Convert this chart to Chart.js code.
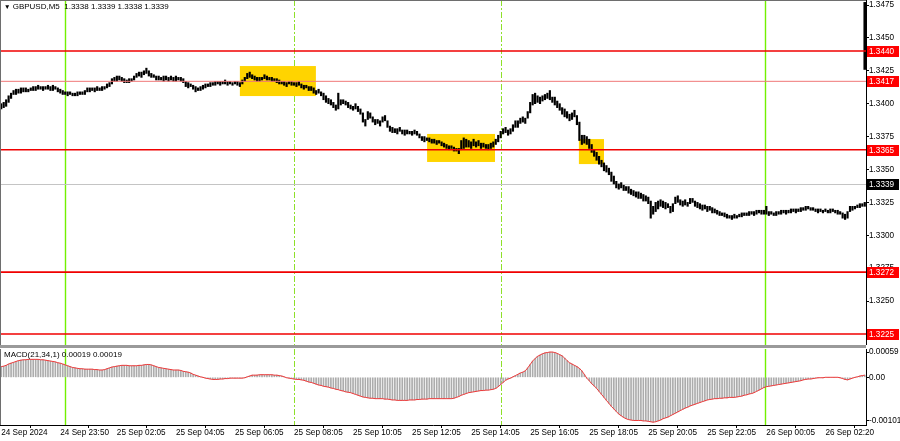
<!DOCTYPE html>
<html>
<head>
<meta charset="utf-8">
<script src="https://cdn.jsdelivr.net/npm/chart.js@4.4.0/dist/chart.umd.min.js"></script>
<style>
  html, body { margin: 0; padding: 0; background: #fff; }
  #wrap { position: relative; width: 900px; height: 441px; overflow: hidden; font-family: "Liberation Sans", Arial, sans-serif; }
  #price { position: absolute; left: 0; top: 0; }
  #macd { position: absolute; left: 0; top: 348px; }
  #sep { position: absolute; left: 0; top: 345px; width: 866px; height: 3px; background: #9a9a9a; }
  .lbl { position: absolute; font-size: 8px; color: #000; white-space: pre; }
  .tri { font-size: 6.5px; }
</style>
</head>
<body>
<div id="wrap">
  <canvas id="price" width="900" height="345"></canvas>
  <div id="sep"></div>
  <canvas id="macd" width="900" height="93"></canvas>
  <div class="lbl" style="left:4px;top:2px"><span class="tri">▼</span> GBPUSD,M5  1.3338 1.3339 1.3338 1.3339</div>
  <div class="lbl" style="left:4px;top:350px">MACD(21,34,1) 0.00019 0.00019</div>
</div>
<script>
// GBPUSD M5, 24 Sep 21:50 .. 26 Sep ~03:00 (one entry per bar)
// prices stored as pips above 1.3200
const PIP_BASE = 1.32;

const lowPips = [
  196,197,198,201,204,207,207,208,208,209,
  209,209,210,210,210,211,211,210,211,211,
  210,210,211,209,208,207,207,206,207,206,
  206,206,207,207,207,209,209,210,209,210,
  210,210,211,212,213,215,217,217,218,217,
  216,216,216,217,218,220,221,220,222,223,
  221,220,220,218,218,218,217,218,217,218,
  217,217,218,217,216,213,212,213,211,209,
  210,210,211,212,213,213,214,214,215,214,
  215,215,214,215,214,215,214,213,215,217,
  219,220,219,218,217,217,218,219,218,218,
  217,217,216,215,215,214,213,215,214,214,
  213,214,212,211,212,210,210,208,207,208,
  206,203,201,200,199,197,195,196,199,200,
  199,197,196,195,196,194,192,186,183,188,
  189,186,184,185,183,186,187,182,179,178,
  178,177,179,177,176,177,177,176,177,176,
  174,172,171,172,171,170,170,169,170,168,
  167,166,165,166,164,164,162,165,166,167,
  167,166,168,167,168,166,167,166,165,166,
  167,169,171,174,177,178,176,177,179,182,
  182,185,186,185,189,193,199,200,201,200,
  202,203,204,203,201,199,197,195,192,190,
  189,187,188,190,184,172,169,170,169,166,
  163,160,157,154,152,149,148,146,141,139,
  136,135,136,134,134,132,131,130,129,128,
  128,126,126,124,113,116,118,120,122,121,
  120,121,117,118,124,125,123,122,123,122,
  124,125,122,121,120,119,120,118,119,117,
  117,116,115,115,114,113,113,112,113,113,
  114,114,115,115,115,116,115,116,117,116,
  116,116,115,116,115,115,116,116,117,116,
  117,117,118,117,118,118,119,119,120,119,
  119,118,117,118,117,118,117,117,118,117,
  116,116,113,112,113,118,119,120,121,121,122,122
];

const highPips = [
  200,201,203,206,208,210,211,211,212,212,
  212,211,212,213,213,214,213,213,213,214,
  213,214,213,212,211,210,209,209,209,208,
  208,209,209,209,210,212,212,212,212,213,
  212,213,213,215,216,219,220,221,221,220,
  219,218,219,219,221,223,224,224,225,227,
  225,223,222,221,221,220,221,221,220,221,
  220,221,220,220,219,217,216,215,214,213,
  212,213,214,215,215,216,216,217,217,217,
  217,218,217,217,216,217,217,216,218,220,
  223,224,222,221,220,220,220,222,221,220,
  220,219,219,218,217,217,216,217,217,216,
  216,217,215,214,214,213,213,212,210,211,
  209,208,206,204,203,201,199,208,203,203,
  202,201,199,198,200,198,196,193,188,194,
  193,190,188,188,187,190,191,187,183,182,
  181,181,182,180,180,180,179,179,180,179,
  177,175,175,174,174,173,173,172,172,171,
  170,169,168,168,167,166,166,172,174,173,
  172,171,173,171,172,170,170,169,169,170,
  171,173,176,179,181,182,180,181,184,187,
  187,189,190,189,194,201,207,208,206,205,
  206,207,208,210,205,205,202,200,197,196,
  194,192,193,195,191,186,176,176,175,173,
  169,165,163,160,157,155,153,151,148,145,
  141,139,140,138,137,137,135,134,133,133,
  132,131,130,129,126,122,125,126,127,126,
  125,124,122,124,129,130,127,126,127,125,
  128,128,126,125,124,123,123,122,122,121,
  120,119,118,117,117,116,115,115,116,115,
  116,117,117,117,118,118,118,119,119,119,
  119,122,118,118,117,118,118,119,119,119,
  119,120,120,120,120,121,121,122,122,121,
  121,120,120,120,119,120,119,120,120,119,
  119,118,117,116,118,122,122,122,123,124,124,125
];

// MACD(21,34,1) main line, in units of 0.00001
const macdE5 = [
  25,26,28,31,33,35,37,39,40,41,
  41,42,42,42,42,42,41,41,40,39,
  38,37,36,34,33,31,29,27,25,23,
  22,21,20,20,19,19,19,19,18,18,
  17,17,18,20,22,24,25,26,27,28,
  28,28,27,27,27,27,28,28,29,30,
  30,29,27,25,23,22,21,20,19,18,
  17,17,17,16,14,13,12,10,7,5,
  3,1,0,-2,-3,-4,-5,-5,-5,-4,
  -4,-3,-3,-2,-2,-2,-2,-2,-2,-1,
  1,3,5,5,5,6,6,6,6,6,
  6,5,5,4,3,1,-1,-2,-3,-4,
  -5,-5,-6,-7,-9,-11,-12,-14,-16,-18,
  -19,-21,-22,-23,-25,-26,-28,-29,-31,-32,
  -34,-35,-36,-38,-40,-42,-44,-46,-47,-48,
  -49,-49,-50,-50,-50,-50,-51,-51,-52,-53,
  -53,-54,-54,-54,-54,-54,-53,-53,-53,-52,
  -52,-51,-51,-51,-50,-50,-50,-50,-50,-50,
  -50,-50,-50,-50,-49,-47,-45,-42,-40,-38,
  -36,-35,-34,-33,-32,-31,-31,-30,-30,-29,
  -28,-26,-22,-17,-12,-7,-4,-2,1,4,
  7,10,12,15,22,30,38,44,49,52,
  55,57,58,59,59,58,56,53,50,45,
  39,34,31,28,25,21,15,7,-2,-8,
  -15,-20,-26,-33,-40,-47,-54,-61,-68,-74,
  -80,-86,-90,-94,-97,-99,-100,-101,-101,-101,
  -101,-102,-102,-103,-104,-105,-104,-102,-100,-97,
  -95,-93,-90,-87,-84,-81,-78,-75,-72,-70,
  -67,-65,-63,-61,-59,-57,-55,-53,-52,-51,
  -50,-50,-49,-49,-48,-48,-47,-47,-47,-46,
  -45,-44,-42,-41,-39,-38,-36,-33,-30,-27,
  -24,-22,-21,-20,-19,-18,-17,-16,-15,-14,
  -13,-12,-11,-10,-9,-8,-6,-5,-4,-4,
  -3,-2,-1,-1,-1,0,0,0,0,0,
  0,-1,-3,-5,-6,-4,-2,0,1,3,
  4,5
];

// odd tall mark at the right edge of the price window
const spikeIdx = 351;
const spikeRange = [1.3426, 1.3477];

const xTickIdx = [0, 24, 47, 71, 95, 119, 143, 167, 191, 215, 239, 263, 287, 311, 335];
const xTickLabels = ['24 Sep 2024', '24 Sep 23:50', '25 Sep 02:05', '25 Sep 04:05', '25 Sep 06:05',
  '25 Sep 08:05', '25 Sep 10:05', '25 Sep 12:05', '25 Sep 14:05', '25 Sep 16:05', '25 Sep 18:05',
  '25 Sep 20:05', '25 Sep 22:05', '26 Sep 00:05', '26 Sep 02:20'];
const priceTicks = [1.3225, 1.3250, 1.3275, 1.3300, 1.3325, 1.3350, 1.3375, 1.3400, 1.3425, 1.3450, 1.3475];
const macdTicks = [0.00059, 0, -0.00101];

// horizontal levels drawn on the chart
const levels = [1.3440, 1.3417, 1.3365, 1.3272, 1.3225];
const bidPrice = 1.3339;

// session separators (bar index) and highlighted zones
const vLines = [{ at: 26, dash: false }, { at: 119, dash: true }, { at: 203, dash: true }, { at: 310.6, dash: false }];
const zones = [
  { from: 97, to: 127.9, lo: 1.34058, hi: 1.34286 },
  { from: 173.1, to: 200.7, lo: 1.33557, hi: 1.33770 },
  { from: 234.8, to: 245, lo: 1.33541, hi: 1.33731 }
];

const N = lowPips.length;
const bars = lowPips.map((lo, i) => ({ x: i, y: [PIP_BASE + lo / 10000, PIP_BASE + highPips[i] / 10000] }));
const macdPts = macdE5.map((v, i) => ({ x: i, y: v / 100000 }));

const FAMILY = '"Liberation Sans", Arial, sans-serif';
const FONT = { family: FAMILY, size: 8.2 };

const vLinePlugin = {
  id: 'vlines',
  beforeDatasetsDraw(chart) {
    const { ctx, chartArea: a, scales: { x } } = chart;
    ctx.save();
    vLines.forEach(v => {
      const px = Math.round(x.getPixelForValue(v.at)) + 0.5;
      ctx.strokeStyle = v.dash ? '#8ee02a' : '#72f000';
      ctx.lineWidth = v.dash ? 1 : 1.4;
      ctx.setLineDash(v.dash ? [6, 2, 2, 2] : []);
      ctx.beginPath();
      ctx.moveTo(px, a.top);
      ctx.lineTo(px, a.bottom);
      ctx.stroke();
    });
    ctx.restore();
  }
};

const framePlugin = {
  id: 'frame',
  afterDraw(chart) {
    const { ctx, chartArea: a } = chart;
    ctx.save();
    ctx.strokeStyle = '#6e6e6e';
    ctx.lineWidth = 1;
    ctx.setLineDash([]);
    ctx.beginPath();
    ctx.moveTo(0.5, a.top);
    ctx.lineTo(0.5, a.bottom);
    if (chart.canvas.id === 'price') {
      ctx.moveTo(0, 0.5);
      ctx.lineTo(a.right, 0.5);
    }
    ctx.stroke();
    ctx.restore();
  }
};

const pricePlugin = {
  id: 'priceMarks',
  beforeDatasetsDraw(chart) {
    const { ctx, chartArea: a, scales: { x, y } } = chart;
    ctx.save();
    ctx.fillStyle = '#ffd400';
    zones.forEach(z => {
      const x1 = x.getPixelForValue(z.from), x2 = x.getPixelForValue(z.to);
      const y1 = y.getPixelForValue(z.hi), y2 = y.getPixelForValue(z.lo);
      ctx.fillRect(x1, y1, x2 - x1, y2 - y1);
    });
    // bid line
    const py = Math.round(y.getPixelForValue(bidPrice)) + 0.5;
    ctx.strokeStyle = '#c4c4c4';
    ctx.lineWidth = 1;
    ctx.beginPath(); ctx.moveTo(a.left, py); ctx.lineTo(a.right, py); ctx.stroke();
    ctx.restore();
  },
  afterDatasetsDraw(chart) {
    const { ctx, chartArea: a, scales: { y } } = chart;
    ctx.save();
    levels.forEach(p => {
      const py = y.getPixelForValue(p);
      const light = p === 1.3417;
      ctx.strokeStyle = light ? '#f07878' : '#f00000';
      ctx.lineWidth = light ? 1 : 1.6;
      ctx.beginPath(); ctx.moveTo(a.left, py); ctx.lineTo(a.right, py); ctx.stroke();
    });
    ctx.restore();
  },
  afterDraw(chart) {
    const { ctx, chartArea: a, scales: { y } } = chart;
    ctx.save();
    ctx.font = '8.2px ' + FAMILY;
    ctx.textBaseline = 'middle';
    const tag = (p, fill) => {
      const py = Math.round(y.getPixelForValue(p));
      ctx.fillStyle = fill;
      ctx.fillRect(a.right + 1, py - 5, 32, 11);
      ctx.fillStyle = '#fff';
      ctx.fillText(p.toFixed(4), a.right + 3, py + 0.5);
    };
    levels.forEach(p => tag(p, '#ff0000'));
    tag(bidPrice, '#000');
    ctx.restore();
  }
};

const noPad = s => { s.paddingTop = 0; s.paddingBottom = 0; };

new Chart(document.getElementById('price'), {
  type: 'bar',
  data: {
    datasets: [
      { data: bars, backgroundColor: '#000', barThickness: 1.5, grouped: false },
      { data: [{ x: spikeIdx, y: spikeRange }], backgroundColor: '#000', barThickness: 2, grouped: false }
    ]
  },
  options: {
    responsive: false,
    animation: false,
    events: [],
    layout: { padding: 0 },
    plugins: { legend: { display: false }, tooltip: { enabled: false } },
    scales: {
      x: { type: 'linear', min: -0.5, max: N - 0.5, offset: false, display: false },
      y: {
        position: 'right',
        min: 1.32166,
        max: 1.34788,
        afterBuildTicks: s => { s.ticks = priceTicks.map(v => ({ value: v })); },
        afterFit: s => { s.width = 34; noPad(s); },
        grid: { drawOnChartArea: false, tickLength: 3, color: '#000' },
        border: { color: '#000' },
        ticks: { padding: 0, color: '#000', font: FONT, callback: v => v.toFixed(4) }
      }
    }
  },
  plugins: [vLinePlugin, pricePlugin, framePlugin]
});

new Chart(document.getElementById('macd'), {
  type: 'bar',
  data: {
    datasets: [
      { type: 'line', data: macdPts, borderColor: '#f03838', borderWidth: 1, pointRadius: 0, tension: 0, order: 0 },
      { data: macdPts, backgroundColor: '#acacac', barThickness: 1, grouped: false, order: 1 }
    ]
  },
  options: {
    responsive: false,
    animation: false,
    events: [],
    layout: { padding: { top: 1, left: 0, right: 0, bottom: 0 } },
    plugins: { legend: { display: false }, tooltip: { enabled: false } },
    scales: {
      x: {
        type: 'linear', min: -0.5, max: N - 0.5, offset: false,
        afterBuildTicks: s => { s.ticks = xTickIdx.map(v => ({ value: v })); },
        afterFit: s => { s.height = 16; s.paddingLeft = 0; s.paddingRight = 0; },
        grid: { drawOnChartArea: false, tickLength: 3, color: '#000' },
        border: { color: '#000' },
        ticks: { autoSkip: false, maxRotation: 0, align: 'start', padding: 0, color: '#000', font: FONT,
          callback: (v, i) => xTickLabels[i] }
      },
      y: {
        position: 'right',
        min: -0.001116,
        max: 0.000662,
        afterBuildTicks: s => { s.ticks = macdTicks.map(v => ({ value: v })); },
        afterFit: s => { s.width = 34; noPad(s); },
        grid: { drawOnChartArea: false, tickLength: 3, color: '#000' },
        border: { color: '#000' },
        ticks: { padding: 0, color: '#000', font: FONT, callback: v => (v === 0 ? '0.00' : v.toFixed(5)) }
      }
    }
  },
  plugins: [vLinePlugin, framePlugin]
});
</script>
</body>
</html>
